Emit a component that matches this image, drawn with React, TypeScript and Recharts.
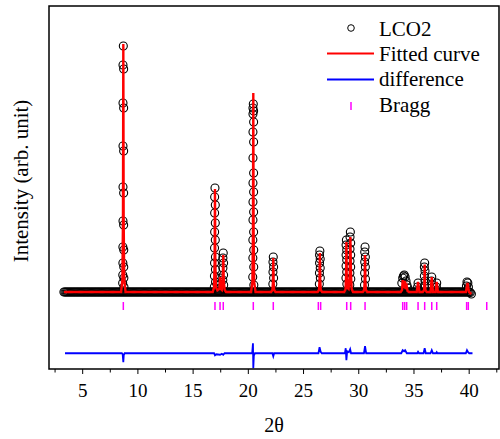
import React from 'react';
import {
  ComposedChart, Scatter, Line, XAxis, YAxis, ReferenceArea, Legend, Label,
} from 'recharts';

// ---- data (2θ in degrees, intensity in arbitrary units) ----
const xTicks = [2.5, 5, 7.5, 10, 12.5, 15, 17.5, 20, 22.5, 25, 27.5, 30, 32.5, 35, 37.5, 40, 42.5];
const majorTicks = [5, 10, 15, 20, 25, 30, 35, 40];

// observed background points
const obsBackground: [number, number][] = [
  [3.3,0],[3.4,0],[3.5,0],[3.6,0],[3.7,0],[3.8,0],[3.9,0],
  [4,0],[4.1,0],[4.2,0],[4.3,0],[4.4,0],[4.5,0],[4.6,0],[4.7,0],[4.8,0],[4.9,0],
  [5,0],[5.1,0],[5.2,0],[5.3,0],[5.4,0],[5.5,0],[5.6,0],[5.7,0],[5.8,0],[5.9,0],
  [6,0],[6.1,0],[6.2,0],[6.3,0],[6.4,0],[6.5,0],[6.6,0],[6.7,0],[6.8,0],[6.9,0],
  [7,0],[7.1,0],[7.2,0],[7.3,0],[7.4,0],[7.5,0],[7.6,0],[7.7,0],[7.8,0],[7.9,0],
  [8,0],[8.1,0],[8.2,0],[8.3,0],[8.4,0],[8.5,0],[8.6,0],[8.7,0],[8.8,0],[8.9,0],
  [9,0],[9.1,0],[9.2,0],[9.3,0],[9.4,0],[9.5,0],[9.6,0],[9.7,0],[9.8,0],[9.9,0],
  [10,0],[10.1,0],[10.2,0],[10.3,0],[10.4,0],[10.5,0],[10.6,0],[10.7,0],[10.8,0],[10.9,0],
  [11,0],[11.1,0],[11.2,0],[11.3,0],[11.4,0],[11.5,0],[11.6,0],[11.7,0],[11.8,0],[11.9,0],
  [12,0],[12.1,0],[12.2,0],[12.3,0],[12.4,0],[12.5,0],[12.6,0],[12.7,0],[12.8,0],[12.9,0],
  [13,0],[13.1,0],[13.2,0],[13.3,0],[13.4,0],[13.5,0],[13.6,0],[13.7,0],[13.8,0],[13.9,0],
  [14,0],[14.1,0],[14.2,0],[14.3,0],[14.4,0],[14.5,0],[14.6,0],[14.7,0],[14.8,0],[14.9,0],
  [15,0],[15.1,0],[15.2,0],[15.3,0],[15.4,0],[15.5,0],[15.6,0],[15.7,0],[15.8,0],[15.9,0],
  [16,0],[16.1,0],[16.2,0],[16.3,0],[16.4,0],[16.5,0],[16.6,0],[16.7,0],[16.8,0],[16.9,0],
  [17,0],[17.1,0],[17.2,0],[17.3,0],[17.4,0],[17.5,0],[17.6,0],[17.7,0],[17.8,0],[17.9,0],
  [18,0],[18.1,0],[18.2,0],[18.3,0],[18.4,0],[18.5,0],[18.6,0],[18.7,0],[18.8,0],[18.9,0],
  [19,0],[19.1,0],[19.2,0],[19.3,0],[19.4,0],[19.5,0],[19.6,0],[19.7,0],[19.8,0],[19.9,0],
  [20,0],[20.1,0],[20.2,0],[20.3,0],[20.4,0],[20.5,0],[20.6,0],[20.7,0],[20.8,0],[20.9,0],
  [21,0],[21.1,0],[21.2,0],[21.3,0],[21.4,0],[21.5,0],[21.6,0],[21.7,0],[21.8,0],[21.9,0],
  [22,0],[22.1,0],[22.2,0],[22.3,0],[22.4,0],[22.5,0],[22.6,0],[22.7,0],[22.8,0],[22.9,0],
  [23,0],[23.1,0],[23.2,0],[23.3,0],[23.4,0],[23.5,0],[23.6,0],[23.7,0],[23.8,0],[23.9,0],
  [24,0],[24.1,0],[24.2,0],[24.3,0],[24.4,0],[24.5,0],[24.6,0],[24.7,0],[24.8,0],[24.9,0],
  [25,0],[25.1,0],[25.2,0],[25.3,0],[25.4,0],[25.5,0],[25.6,0],[25.7,0],[25.8,0],[25.9,0],
  [26,0],[26.1,0],[26.2,0],[26.3,0],[26.4,0],[26.5,0],[26.6,0],[26.7,0],[26.8,0],[26.9,0],
  [27,0],[27.1,0],[27.2,0],[27.3,0],[27.4,0],[27.5,0],[27.6,0],[27.7,0],[27.8,0],[27.9,0],
  [28,0],[28.1,0],[28.2,0],[28.3,0],[28.4,0],[28.5,0],[28.6,0],[28.7,0],[28.8,0],[28.9,0],
  [29,0],[29.1,0],[29.2,0],[29.3,0],[29.4,0],[29.5,0],[29.6,0],[29.7,0],[29.8,0],[29.9,0],
  [30,0],[30.1,0],[30.2,0],[30.3,0],[30.4,0],[30.5,0],[30.6,0],[30.7,0],[30.8,0],[30.9,0],
  [31,0],[31.1,0],[31.2,0],[31.3,0],[31.4,0],[31.5,0],[31.6,0],[31.7,0],[31.8,0],[31.9,0],
  [32,0],[32.1,0],[32.2,0],[32.3,0],[32.4,0],[32.5,0],[32.6,0],[32.7,0],[32.8,0],[32.9,0],
  [33,0],[33.1,0],[33.2,0],[33.3,0],[33.4,0],[33.5,0],[33.6,0],[33.7,0],[33.8,0],[33.9,0],
  [34,0],[34.1,0],[34.2,0],[34.3,0],[34.4,0],[34.5,0],[34.6,0],[34.7,0],[34.8,0],[34.9,0],
  [35,0],[35.1,0],[35.2,0],[35.3,0],[35.4,0],[35.5,0],[35.6,0],[35.7,0],[35.8,0],[35.9,0],
  [36,0],[36.1,0],[36.2,0],[36.3,0],[36.4,0],[36.5,0],[36.6,0],[36.7,0],[36.8,0],[36.9,0],
  [37,0],[37.1,0],[37.2,0],[37.3,0],[37.4,0],[37.5,0],[37.6,0],[37.7,0],[37.8,0],[37.9,0],
  [38,0],[38.1,0],[38.2,0],[38.3,0],[38.4,0],[38.5,0],[38.6,0],[38.7,0],[38.8,0],[38.9,0],
  [39,0],[39.1,0],[39.2,0],[39.3,0],[39.4,0],[39.5,0],[39.6,0],[39.7,0],[39.8,0],[39.9,0],
  [40,0],[40.1,-2],[40.2,-8],
];

// observed points on the reflection profiles
const obsPeaks: [number, number][] = [
  [8.68,984],[8.65,908],[8.71,892],[8.65,756],[8.71,736],[8.65,584],[8.71,564],[8.65,420],[8.71,396],
  [8.65,284],[8.71,268],[8.64,180],[8.72,168],[8.64,116],[8.72,100],[8.63,68],[8.73,56],[8.62,36],[8.74,20],
  [16.98,416],[16.95,380],[17.01,348],[16.95,316],[17.01,276],[16.95,240],[17.01,208],[16.94,176],
  [17.02,140],[16.94,116],[17.02,90],[16.93,64],[17.03,40],[16.92,20],
  [17.44,56],[17.41,30],[17.47,30],
  [17.73,156],[17.7,136],[17.76,116],[17.7,96],[17.76,68],[17.69,48],[17.77,28],
  [20.45,752],[20.42,736],[20.48,724],[20.42,712],[20.48,680],[20.42,640],[20.48,600],[20.42,536],
  [20.48,476],[20.42,436],[20.48,400],[20.42,360],[20.48,320],[20.42,288],[20.48,240],[20.41,208],
  [20.49,168],[20.41,136],[20.49,100],[20.4,60],[20.5,28],
  [22.26,140],[22.23,120],[22.29,100],[22.23,80],[22.29,56],[22.22,32],
  [26.48,164],[26.45,148],[26.51,132],[26.45,116],[26.51,96],[26.44,76],[26.52,56],[26.43,32],
  [28.88,208],[28.85,188],[28.91,168],[28.85,148],[28.91,128],[28.85,104],[28.91,80],[28.84,56],[28.92,32],
  [29.24,240],[29.21,220],[29.27,196],[29.21,172],[29.27,148],[29.21,124],[29.27,100],[29.2,76],[29.28,52],[29.19,28],
  [30.57,180],[30.54,160],[30.6,140],[30.54,120],[30.6,100],[30.53,76],[30.61,52],[30.52,28],
  [33.9,36],[33.98,56],[34.05,64],[34.12,68],[34.2,60],[34.28,44],[34.36,28],[34.45,16],
  [35.37,36],[35.33,20],
  [35.97,116],[35.94,100],[36,84],[35.94,64],[36,44],[35.93,24],
  [36.61,60],[36.58,44],[36.64,28],
  [37.06,36],[37.03,20],
  [39.8,40],[39.88,36],[39.75,24],[39.93,20],
];

// fitted (calculated) profile
const fitted: [number, number][] = [
  [3.3,0],
  [8.48,0],[8.6,50],[8.65,300],[8.68,992],[8.71,300],[8.76,50],[8.88,0],
  [16.78,0],[16.9,20],[16.95,124],[16.98,412],[17.01,124],[17.06,20],[17.2,6],[17.38,12],[17.44,60],
  [17.5,12],[17.6,8],[17.68,40],[17.73,148],[17.78,40],[17.86,8],[17.98,0],
  [20.25,0],[20.37,40],[20.42,240],[20.45,796],[20.48,240],[20.53,40],[20.65,0],
  [22.06,0],[22.18,8],[22.23,40],[22.26,136],[22.29,40],[22.34,8],[22.46,0],
  [26.28,0],[26.4,8],[26.45,48],[26.48,156],[26.51,48],[26.56,8],[26.68,0],
  [28.68,0],[28.8,10],[28.85,60],[28.88,200],[28.91,60],[28.98,16],[29.08,12],[29.18,66],[29.24,220],
  [29.3,66],[29.36,12],[29.48,0],
  [30.37,0],[30.49,8],[30.54,44],[30.57,148],[30.6,44],[30.65,8],[30.77,0],
  [33.8,0],[33.92,8],[33.98,48],[34.05,16],[34.16,44],[34.24,12],[34.34,24],[34.42,4],[34.55,0],
  [35.25,0],[35.37,40],[35.49,0],
  [35.8,0],[35.92,8],[35.94,33],[35.97,110],[36,33],[36.04,8],[36.15,0],
  [36.5,0],[36.61,60],[36.72,0],
  [36.95,0],[37.06,40],[37.17,0],
  [39.7,0],[39.85,36],[39.98,0],
  [40.2,-8],
];

// difference (observed - calculated)
const difference: [number, number][] = [
  [3.4,0],[8.55,0],[8.62,-4],[8.68,-36],[8.72,-8],[8.8,0],
  [16.9,0],[16.98,-8],[17.1,-4],[17.44,-6],[17.6,-2],[17.73,-6],[17.85,0],
  [20.35,0],[20.42,40],[20.45,-60],[20.5,-10],[20.6,0],
  [22.18,0],[22.26,-12],[22.34,0],
  [26.35,0],[26.45,24],[26.55,6],[26.65,0],
  [28.75,0],[28.82,20],[28.88,-28],[28.95,8],[29.1,4],[29.22,16],[29.3,0],
  [30.47,0],[30.57,28],[30.67,0],
  [33.85,0],[33.98,12],[34.1,8],[34.2,12],[34.35,0],
  [35.3,0],[35.37,6],[35.45,0],
  [35.87,0],[35.97,20],[36.07,0],
  [36.5,0],[36.61,12],[36.72,0],
  [37,0],[37.06,4],[37.12,0],
  [39.7,0],[39.8,12],[39.9,4],[40,0],[40.3,0],
];

// Bragg reflection positions
const braggPositions = [
  8.68, 16.98, 17.44, 17.73, 20.45, 22.26, 26.34, 26.55, 28.91, 29.27, 30.57,
  33.98, 34.16, 34.34, 35.37, 35.97, 36.61, 37.06, 39.77, 39.92, 41.59,
];

const legendNames = ['LCO2', 'Fitted curve', 'difference', 'Bragg'];

// ---- layout constants ----
const X_DOMAIN: [number, number] = [1.95, 42.7];
const Y_DOMAIN: [number, number] = [-308, 1144];
const DIFF_OFFSET = -245;
const BRAGG_LEVEL = -56;
const FONT = 'Liberation Serif';

const toPts = (arr: [number, number][], off = 0) => arr.map(([x, y]) => ({ x, y: y + off }));
const observedData = toPts([...obsBackground, ...obsPeaks]);
const fittedData = toPts(fitted);
const diffData = toPts(difference, DIFF_OFFSET);
const braggData = braggPositions.map((x) => ({ x, y: BRAGG_LEVEL }));

const ObsShape = (p: any) => (
  <circle cx={p.cx} cy={p.cy} r={4} fill="none" stroke="#000" strokeWidth={1.1} />
);
const BraggShape = (p: any) => (
  <line x1={p.cx} x2={p.cx} y1={p.cy - 4} y2={p.cy + 4} stroke="#ff00ff" strokeWidth={1.5} />
);

const XTick = (p: any) => {
  const v = p.payload.value;
  const major = majorTicks.includes(v);
  return (
    <g>
      <line x1={p.x} x2={p.x} y1={p.y} y2={p.y + (major ? 5 : 3.5)} stroke="#000" strokeWidth={1} />
      {major && (
        <text x={p.x} y={p.y + 28} textAnchor="middle" fontFamily={FONT} fontSize={19} fill="#000">
          {v}
        </text>
      )}
    </g>
  );
};

const LegendBox = () => (
  <svg width={180} height={112} style={{ display: 'block' }}>
    <circle cx={31} cy={18} r={3.3} fill="none" stroke="#000" strokeWidth={1} />
    <text x={59} y={26} fontFamily={FONT} fontSize={21} fill="#000">{legendNames[0]}</text>
    <line x1={7} x2={54} y1={43.5} y2={43.5} stroke="#ff0000" strokeWidth={2} />
    <text x={59} y={51} fontFamily={FONT} fontSize={21} fill="#000">{legendNames[1]}</text>
    <line x1={7} x2={54} y1={69.5} y2={69.5} stroke="#0000ff" strokeWidth={2} />
    <text x={59} y={76} fontFamily={FONT} fontSize={21} fill="#000">{legendNames[2]}</text>
    <line x1={31} x2={31} y1={92} y2={100} stroke="#ff00ff" strokeWidth={1.5} />
    <text x={59} y={102} fontFamily={FONT} fontSize={21} fill="#000">{legendNames[3]}</text>
  </svg>
);

export default function App() {
  return (
    <div style={{ position: 'absolute', left: 0, top: 0, background: '#fff' }}>
      <ComposedChart width={500} height={439} margin={{ top: 6, right: 1, bottom: 0, left: 0 }}>
        <XAxis
          type="number"
          dataKey="x"
          domain={X_DOMAIN}
          allowDataOverflow
          ticks={xTicks}
          interval={0}
          tick={<XTick />}
          tickLine={false}
          tickSize={0}
          tickMargin={0}
          axisLine={false}
          height={70}
        >
          <Label
            content={(props: any) => {
              const vb = props.viewBox || { x: 49, width: 450 };
              return (
                <text x={vb.x + vb.width / 2} y={432} textAnchor="middle" fontFamily={FONT} fontSize={20} fill="#000">
                  2θ
                </text>
              );
            }}
          />
        </XAxis>
        <YAxis
          type="number"
          dataKey="y"
          domain={Y_DOMAIN}
          allowDataOverflow
          width={49}
          tick={false}
          tickLine={false}
          axisLine={false}
        >
          <Label
            content={() => (
              <text
                x={27.5}
                y={181}
                transform="rotate(-90 27.5 181)"
                textAnchor="middle"
                fontFamily={FONT}
                fontSize={21}
                fill="#000"
              >
                Intensity (arb. unit)
              </text>
            )}
          />
        </YAxis>
        <Scatter name="LCO2" data={observedData} shape={<ObsShape />} isAnimationActive={false} zIndex={500} />
        <Line
          name="Fitted curve"
          data={fittedData}
          dataKey="y"
          type="linear"
          stroke="#ff0000"
          strokeWidth={2.4}
          dot={false}
          activeDot={false}
          isAnimationActive={false}
          zIndex={700}
        />
        <Line
          name="difference"
          data={diffData}
          dataKey="y"
          type="linear"
          stroke="#0000ff"
          strokeWidth={1.8}
          dot={false}
          activeDot={false}
          isAnimationActive={false}
          zIndex={700}
        />
        <Scatter name="Bragg" data={braggData} shape={<BraggShape />} isAnimationActive={false} zIndex={700} />
        <ReferenceArea
          x1={X_DOMAIN[0]}
          x2={X_DOMAIN[1]}
          y1={Y_DOMAIN[0]}
          y2={Y_DOMAIN[1]}
          fill="none"
          fillOpacity={0}
          stroke="#000"
          strokeWidth={1.5}
          ifOverflow="visible"
          zIndex={800}
        />
        <Legend
          layout="horizontal"
          verticalAlign="middle"
          align="center"
          content={<LegendBox />}
          wrapperStyle={{ position: 'absolute', left: 320, top: 10, width: 180, height: 112 }}
        />
      </ComposedChart>
    </div>
  );
}
